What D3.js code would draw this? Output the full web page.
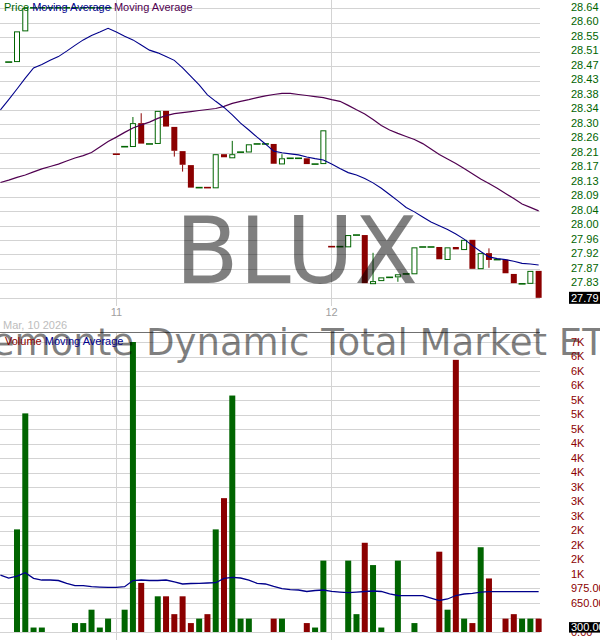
<!DOCTYPE html>
<html><head><meta charset="utf-8">
<script src="https://cdn.jsdelivr.net/npm/d3@7"></script>
<style>body{margin:0;background:#fff}svg{display:block}</style>
</head><body><svg id="c" width="600" height="640"></svg>
<script>
// ---------- DATA (one entry per bar slot 0..64) ----------
const ticker = "BLUX";
const fundName = "Bluemonte Dynamic Total Market ETF";
const dateLabel = "Mar, 10 2026";
const hourLabels = ["11", "12"];
const hourSlots = [13, 39];

const opens = [28.479,28.479,28.569,28.638,28.638,28.638,28.638,28.638,28.638,28.638,28.638,28.638,28.638,
  28.209,28.231,28.230,28.300,28.239,28.239,28.336,28.289,28.218,28.177,28.111,28.111,28.109,28.209,28.197,
  28.215,28.214,28.239,28.239,28.239,28.179,28.197,28.197,28.197,28.180,28.180,27.938,27.938,27.936,27.972,
  27.972,27.828,27.837,27.848,27.848,27.858,27.857,27.937,27.937,27.937,27.899,27.937,27.928,27.958,27.872,
  27.919,27.900,27.900,27.858,27.829,27.829,27.867];
const highs = [28.479,28.569,28.638,28.638,28.638,28.638,28.638,28.638,28.638,28.638,28.638,28.638,28.638,
  28.209,28.231,28.318,28.329,28.239,28.336,28.336,28.289,28.218,28.177,28.111,28.111,28.209,28.209,28.248,
  28.215,28.238,28.239,28.239,28.239,28.209,28.197,28.197,28.197,28.180,28.279,27.938,27.938,27.972,27.972,
  27.972,27.920,27.848,27.848,27.857,27.858,27.936,27.937,27.937,27.937,27.936,27.937,27.958,27.958,27.919,
  27.933,27.900,27.900,27.858,27.829,27.867,27.867];
const lows = [28.479,28.479,28.569,28.638,28.638,28.638,28.638,28.638,28.638,28.638,28.638,28.638,28.638,
  28.209,28.231,28.230,28.240,28.239,28.239,28.290,28.202,28.158,28.111,28.111,28.111,28.109,28.200,28.197,
  28.215,28.214,28.239,28.239,28.181,28.179,28.197,28.197,28.180,28.180,28.180,27.938,27.938,27.936,27.972,
  27.831,27.828,27.837,27.848,27.835,27.858,27.857,27.937,27.937,27.901,27.899,27.930,27.928,27.873,27.872,
  27.876,27.900,27.860,27.831,27.829,27.829,27.788];
const closes = [28.479,28.569,28.638,28.638,28.638,28.638,28.638,28.638,28.638,28.638,28.638,28.638,28.638,
  28.209,28.231,28.300,28.240,28.239,28.336,28.290,28.219,28.178,28.111,28.111,28.111,28.209,28.200,28.209,
  28.215,28.238,28.239,28.239,28.181,28.197,28.197,28.197,28.180,28.180,28.279,27.938,27.938,27.972,27.972,
  27.831,27.837,27.848,27.848,27.857,27.858,27.936,27.937,27.937,27.901,27.936,27.930,27.958,27.873,27.919,
  27.899,27.900,27.860,27.831,27.829,27.867,27.788];
const upFlags = [1,1,1,1,1,1,1,1,1,1,1,1,1, 0,1,1,0,1,1,0,0,0,0,1,0,1,0,1, 1,1,1,1,0,1,1,1,0,1,1,0,1,1,1,
  0,1,1,1,1,1,1,1,1,0,1,0,1,0,1, 0,1,0,0,1,1,0];
const volumes = [0,2300,4900,100,100,0,0,0,200,200,500,100,300,
  0,500,6500,1100,0,800,800,400,800,200,300,400,2300,3000,5300,
  300,300,0,0,300,300,0,0,200,100,1600,0,0,1600,400,
  2000,1500,100,0,1600,0,200,0,0,1800,500,6100,300,200,1900,
  1200,0,300,400,300,300,300];
// moving averages, slots -1..64
const maShort = [28.339,28.369,28.400,28.432,28.462,28.472,28.484,28.495,28.511,28.528,28.544,28.557,28.567,28.578,
  28.567,28.555,28.544,28.529,28.514,28.506,28.495,28.484,28.462,28.437,28.412,28.383,28.364,28.346,28.324,
  28.300,28.280,28.259,28.239,28.218,28.213,28.210,28.207,28.201,28.196,28.192,28.180,28.167,28.155,28.148,
  28.138,28.125,28.109,28.091,28.072,28.053,28.040,28.025,28.010,27.999,27.988,27.975,27.960,27.941,27.924,
  27.908,27.903,27.900,27.895,27.889,27.887,27.884];
const maLong = [28.126,28.133,28.141,28.148,28.157,28.166,28.173,28.180,28.189,28.198,28.205,28.214,28.230,28.246,
  28.259,28.273,28.286,28.295,28.303,28.314,28.322,28.328,28.331,28.334,28.337,28.340,28.343,28.349,28.358,
  28.364,28.369,28.375,28.380,28.384,28.387,28.387,28.384,28.381,28.378,28.375,28.369,28.364,28.352,28.339,
  28.327,28.311,28.293,28.280,28.270,28.261,28.252,28.240,28.224,28.208,28.195,28.182,28.167,28.152,28.136,
  28.123,28.109,28.094,28.079,28.063,28.053,28.043];
const volMA = [1277,1210,1255,1329,1203,1165,1165,1154,1091,1038,1038,1015,1008,1002,
  1002,1015,1154,1165,1154,1154,1165,1121,1076,1087,1091,1098,1105,1203,1226,1210,1165,1091,1076,1020,970,
  952,941,908,930,941,912,896,881,896,908,919,908,852,818,814,814,814,762,706,740,818,852,867,896,903,
  903,903,903,903,903,903];

const priceTickLabels = ["27.79","27.83","27.87","27.92","27.96","28.00","28.04","28.09","28.13","28.17",
  "28.21","28.26","28.30","28.34","28.38","28.43","28.47","28.51","28.55","28.60","28.64"];
const priceTickBase = 27.7875, priceTickStep = 0.0425;
const volTickLabels = ["0.00",null,"650.00","975.00","1K","2K","2K","2K","3K","3K","3K","4K","4K","4K",
  "5K","5K","5K","6K","6K","6K","7K"];
const volTickStep = 325;
const lastPriceLabel = "27.79", lastVolLabel = "300.00";

// ---------- CHART ----------
const GREEN = "#006400", RED = "#8b0000", GRID = "#d3d3d3";
const svg = d3.select("#c");
const x = d3.scaleLinear().domain([-1, 64]).range([0.44, 538.64]);
const yP = d3.scaleLinear().domain([priceTickBase, priceTickBase + 20 * priceTickStep]).range([298, 8]);
const yV = d3.scaleLinear().domain([0, 20 * volTickStep]).range([632, 342]);
const slots = d3.range(opens.length);

svg.append("defs").html('<clipPath id="cp"><rect x="0" y="0" width="540" height="300"/></clipPath>' +
  '<clipPath id="cv"><rect x="0" y="334" width="540" height="300"/></clipPath>');

// grids
const g0 = svg.append("g").attr("shape-rendering", "crispEdges");
g0.selectAll(".pg").data(priceTickLabels).join("line")
  .attr("x1", 0).attr("x2", 540)
  .attr("y1", (d, i) => Math.round(yP(priceTickBase + i * priceTickStep)) + 0.5)
  .attr("y2", (d, i) => Math.round(yP(priceTickBase + i * priceTickStep)) + 0.5)
  .attr("stroke", GRID);
g0.selectAll(".vg").data(volTickLabels).join("line")
  .attr("x1", 0).attr("x2", 540)
  .attr("y1", (d, i) => Math.round(yV(i * volTickStep)) + 0.5)
  .attr("y2", (d, i) => Math.round(yV(i * volTickStep)) + 0.5)
  .attr("stroke", GRID);
hourSlots.forEach(s => {
  const xx = Math.floor(x(s)) + 0.5;
  g0.append("line").attr("x1", xx).attr("x2", xx).attr("y1", 0).attr("y2", 306).attr("stroke", GRID);
  g0.append("line").attr("x1", xx).attr("x2", xx).attr("y1", 333).attr("y2", 640).attr("stroke", GRID);
});
g0.append("line").attr("x1", 0).attr("x2", 540).attr("y1", 332.5).attr("y2", 332.5).attr("stroke", "#707070");

// volume bars
svg.append("g").selectAll("rect").data(slots.filter(i => volumes[i] > 0)).join("rect")
  .attr("x", i => x(i) - 3).attr("width", 6)
  .attr("y", i => yV(volumes[i])).attr("height", i => yV(0) - yV(volumes[i]))
  .attr("fill", i => upFlags[i] ? GREEN : RED);

// candles
const cg = svg.append("g");
slots.forEach(i => {
  const o = opens[i], c = closes[i], h = highs[i], l = lows[i];
  const col = upFlags[i] ? GREEN : RED;
  const xc = x(i);
  if (o === c) {
    cg.append("line").attr("x1", xc - 3.5).attr("x2", xc + 3.5)
      .attr("y1", yP(c)).attr("y2", yP(c)).attr("stroke", col).attr("stroke-width", 1.6);
    if (h > c || l < c)
      cg.append("line").attr("x1", xc).attr("x2", xc).attr("y1", yP(h)).attr("y2", yP(l)).attr("stroke", col);
    return;
  }
  const top = yP(Math.max(o, c)), bot = yP(Math.min(o, c));
  if (h > Math.max(o, c))
    cg.append("line").attr("x1", xc).attr("x2", xc).attr("y1", yP(h)).attr("y2", top).attr("stroke", col);
  if (l < Math.min(o, c))
    cg.append("line").attr("x1", xc).attr("x2", xc).attr("y1", bot).attr("y2", yP(l)).attr("stroke", col);
  if (c > o) {
    cg.append("rect").attr("x", xc - 2.5).attr("width", 5).attr("y", top + 0.5)
      .attr("height", Math.max(bot - top - 1, 1)).attr("fill", "#fff").attr("stroke", col);
  } else {
    cg.append("rect").attr("x", xc - 3).attr("width", 6).attr("y", top)
      .attr("height", Math.max(bot - top, 1)).attr("fill", col);
  }
});

// moving averages
const lineP = d3.line().x((d, i) => x(i - 1)).y(d => yP(d));
const lineV = d3.line().x((d, i) => x(i - 1)).y(d => yV(d));
svg.append("path").attr("d", lineP(maLong)).attr("fill", "none").attr("stroke", "#500050")
  .attr("stroke-width", 1.2).attr("clip-path", "url(#cp)");
svg.append("path").attr("d", lineP(maShort)).attr("fill", "none").attr("stroke", "#00008b")
  .attr("stroke-width", 1.1).attr("clip-path", "url(#cp)");
svg.append("path").attr("d", lineV(volMA)).attr("fill", "none").attr("stroke", "#00008b")
  .attr("stroke-width", 1.3).attr("clip-path", "url(#cv)");

// watermarks
svg.append("text").attr("x", 296.5).attr("y", 283).attr("text-anchor", "middle")
  .attr("font-family", "DejaVu Sans").attr("font-size", 93).attr("fill", "#000").attr("fill-opacity", 0.5)
  .text(ticker);
svg.append("text").attr("x", -67.6).attr("y", 355)
  .attr("font-family", "DejaVu Sans").attr("font-size", 37.1).attr("fill", "#000").attr("fill-opacity", 0.5)
  .text(fundName);

// legends
const lg = svg.append("text").attr("x", 4).attr("y", 10.5).attr("font-family", "Liberation Sans, Arial")
  .attr("font-size", 11);
lg.append("tspan").attr("fill", GREEN).text("Price ");
lg.append("tspan").attr("fill", "#00008b").text("Moving Average ");
lg.append("tspan").attr("fill", "#500050").text("Moving Average");
const lv = svg.append("text").attr("x", 5).attr("y", 344.5).attr("font-family", "Liberation Sans, Arial")
  .attr("font-size", 11);
lv.append("tspan").attr("fill", RED).text("Volume ");
lv.append("tspan").attr("fill", "#00008b").text("Moving Average");

// axis labels
const ax = svg.append("g").attr("font-family", "Liberation Sans, Arial").attr("font-size", 11);
ax.selectAll(".pl").data(priceTickLabels).join("text")
  .attr("x", 571).attr("y", (d, i) => yP(priceTickBase + i * priceTickStep) + 2.8)
  .attr("fill", GREEN).text(d => d);
ax.selectAll(".vl").data(volTickLabels).join("text")
  .attr("x", 571).attr("y", (d, i) => yV(i * volTickStep) + 3.5)
  .attr("fill", RED).text(d => d || "");

// last value highlights
const lpY = yP(closes[closes.length - 1]);
ax.append("rect").attr("x", 569).attr("y", lpY - 6).attr("width", 31).attr("height", 12).attr("fill", "#000");
ax.append("text").attr("x", 571).attr("y", lpY + 4).attr("fill", "#fff").text(lastPriceLabel);
const lvY = yV(volumes[volumes.length - 1]) + 8.5;
ax.append("rect").attr("x", 569).attr("y", lvY - 5).attr("width", 31).attr("height", 10.5).attr("fill", "#000");
ax.append("text").attr("x", 571).attr("y", lvY + 4).attr("fill", "#fff").text(lastVolLabel);

// time axis
const tx = svg.append("g").attr("font-family", "Liberation Sans, Arial").attr("font-size", 11);
tx.selectAll("text").data(hourLabels).join("text")
  .attr("x", (d, i) => x(hourSlots[i])).attr("y", 316).attr("text-anchor", "middle")
  .attr("fill", "#a0a0a0").text(d => d);
svg.append("text").attr("x", 3).attr("y", 329).attr("font-family", "Liberation Sans, Arial")
  .attr("font-size", 11).attr("fill", "#bdbdbd").text(dateLabel);
</script></body></html>
